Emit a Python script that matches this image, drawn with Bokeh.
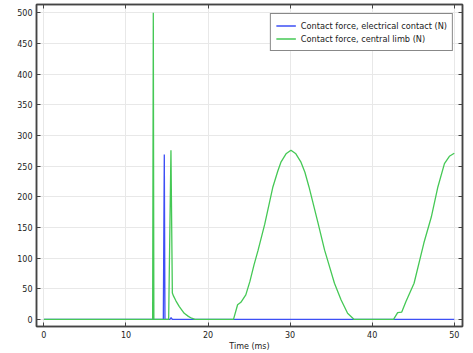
from bokeh.plotting import figure
from bokeh.models import (LinearAxis, Range1d, FixedTicker, Legend, LegendItem,
                          CustomJSTickFormatter)
from bokeh.embed import file_html
from bokeh.resources import INLINE

# Data
t_elec = [0, 14.55, 14.67, 14.75, 15.35, 15.5, 15.65, 50]
f_elec = [0, 0, 269, 0, 0, 3, 0, 0]

t_limb = [0, 13.25, 13.33, 13.4, 15.2, 15.48, 15.65, 15.8, 16.1, 16.5, 17.1, 17.6, 18.0, 18.4,
          23.1, 23.6, 24.0, 24.6, 25.1, 25.6, 26.1, 26.9, 27.9, 28.5, 28.9, 29.5, 30.1, 30.7,
          31.3, 31.8, 32.3, 33.35, 34.2, 34.6, 35.4, 36.2, 37.0, 37.8, 42.6, 43.1, 43.6, 44.1,
          45.1, 46.3, 47.2, 48.0, 48.8, 49.4, 50.0]
f_limb = [0, 0, 500, 0, 0, 276, 43, 38, 30, 21, 10, 5, 2, 0,
          0, 24, 28, 40, 62, 89, 113, 155, 216, 242, 257, 270, 276, 270,
          257, 240, 216, 160, 113, 95, 59, 32, 10, 0, 0, 11, 12, 29,
          59, 125, 167, 216, 254, 266, 271]

x_ticks = [0, 10, 20, 30, 40, 50]
y_ticks = [0, 50, 100, 150, 200, 250, 300, 350, 400, 450, 500]

FONT = "DejaVu Sans"
TXT = "#222222"
AX = "#444444"

p = figure(width=473, height=353, output_backend="svg", toolbar_location=None,
           x_range=Range1d(-0.9, 51.0), y_range=Range1d(-11.5, 513.5),
           min_border_left=36, min_border_right=11, min_border_top=4, min_border_bottom=26,
           background_fill_color="white", border_fill_color="white")
p.outline_line_color = AX
p.outline_line_width = 1.5

for ax in (p.xaxis[0], p.yaxis[0]):
    ax.axis_line_color = AX
    ax.axis_line_width = 1.5
    ax.major_tick_line_color = AX
    ax.major_tick_in = 4
    ax.major_tick_out = 0
    ax.minor_tick_line_color = None
    ax.major_label_text_font = FONT
    ax.major_label_text_font_size = "8px"
    ax.major_label_text_color = TXT

p.xaxis[0].ticker = FixedTicker(ticks=x_ticks)
p.yaxis[0].ticker = FixedTicker(ticks=y_ticks)
p.xaxis[0].major_label_standoff = 4
p.yaxis[0].major_label_standoff = 4
p.xaxis[0].axis_label = "Time (ms)"
p.xaxis[0].axis_label_text_font = FONT
p.xaxis[0].axis_label_text_font_size = "8px"
p.xaxis[0].axis_label_text_font_style = "normal"
p.xaxis[0].axis_label_text_color = TXT
p.xaxis[0].axis_label_standoff = 1

blank = CustomJSTickFormatter(code="return ''")
top = LinearAxis(ticker=FixedTicker(ticks=x_ticks), major_tick_in=4, major_tick_out=0,
                 formatter=blank, major_label_standoff=0,
                 axis_line_color=AX, axis_line_width=1.5,
                 major_tick_line_color=AX, minor_tick_line_color=None)
right = LinearAxis(ticker=FixedTicker(ticks=y_ticks), major_tick_in=4, major_tick_out=0,
                   formatter=blank, major_label_standoff=0,
                   axis_line_color=AX, axis_line_width=1.5,
                   major_tick_line_color=AX, minor_tick_line_color=None)
p.add_layout(top, "above")
p.add_layout(right, "right")

p.xgrid.ticker = FixedTicker(ticks=x_ticks)
p.ygrid.ticker = FixedTicker(ticks=y_ticks)
p.xgrid.grid_line_color = "#e8e8e8"
p.ygrid.grid_line_color = "#e8e8e8"

r1 = p.line(t_elec, f_elec, line_color="#3d4ff5", line_width=1.3)
r2 = p.line(t_limb, f_limb, line_color="#45c855", line_width=1.3)

legend = Legend(items=[LegendItem(label="Contact force, electrical contact (N)", renderers=[r1]),
                       LegendItem(label="Contact force, central limb (N)", renderers=[r2])],
                location="top_right", margin=9, padding=5, spacing=0,
                glyph_width=20, glyph_height=13, label_height=13, label_standoff=5,
                label_text_font=FONT, label_text_font_size="8.2px", label_text_color=TXT,
                border_line_color="#111111", border_line_width=1.5,
                background_fill_color="white", background_fill_alpha=1)
p.add_layout(legend, "center")

open("out.html", "w").write(file_html(p, INLINE))
